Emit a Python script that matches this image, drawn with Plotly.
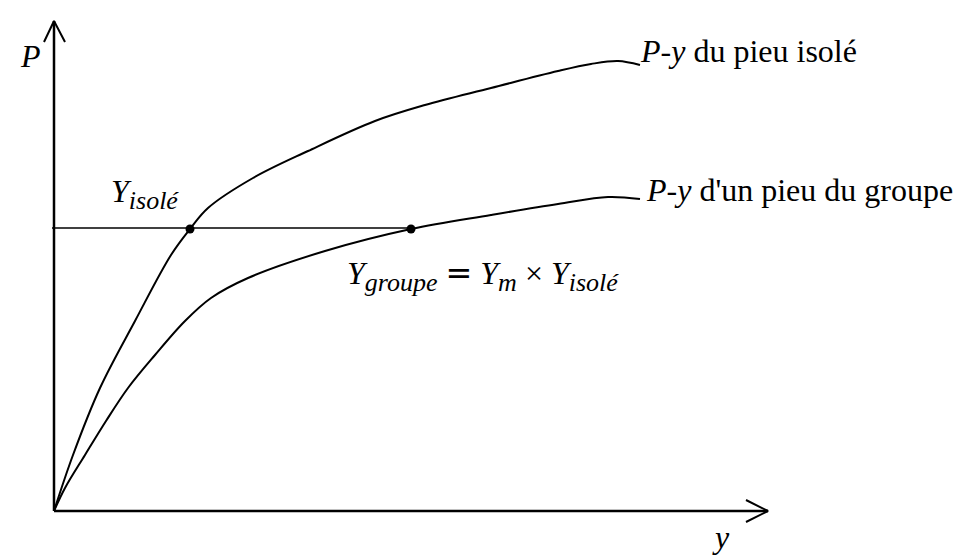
import plotly.graph_objects as go

# P-y curves (y displacement, P load), origin at the axes corner
y_isole = [0, 19, 46, 81, 117, 136, 154, 199, 254, 321, 371, 437, 504, 537, 564, 586]
p_isole = [0, 56, 123, 190, 256, 282, 303, 333, 360, 390, 406, 423, 440, 447, 450, 446]

y_groupe = [0, 11, 31, 52, 74, 101, 131, 157, 194, 271, 357, 437, 504, 554, 586]
p_groupe = [0, 23, 56, 90, 123, 156, 190, 213, 233, 260, 282, 296, 307, 314, 312]

# same load level on both curves
p_level = 282
y_isole_pt = 136
y_groupe_pt = 357

# axis extents
y_max = 714
p_max = 490

FONT = "Liberation Serif, Times New Roman, serif"
FS = 32

fig = go.Figure()

curve = dict(color="black", width=2, shape="spline", smoothing=1.0)
fig.add_trace(go.Scatter(x=y_isole, y=p_isole, mode="lines", line=curve))
fig.add_trace(go.Scatter(x=y_groupe, y=p_groupe, mode="lines", line=curve))

# horizontal line at the common load
fig.add_trace(go.Scatter(x=[-2, y_groupe_pt], y=[p_level + 1, p_level + 1], mode="lines",
                         line=dict(color="black", width=1.6)))
fig.add_trace(go.Scatter(x=[y_isole_pt, y_groupe_pt], y=[p_level, p_level], mode="markers",
                         marker=dict(color="black", size=9)))

# axes with open arrow heads
ax = dict(color="black", width=2.5)
fig.add_trace(go.Scatter(x=[0, 0], y=[0, p_max], mode="lines", line=ax))
fig.add_trace(go.Scatter(x=[-10, 0, 11], y=[p_max - 21, p_max, p_max - 21], mode="lines",
                         line=dict(color="black", width=2)))
fig.add_trace(go.Scatter(x=[0, y_max], y=[0, 0], mode="lines", line=ax))
fig.add_trace(go.Scatter(x=[y_max - 22, y_max, y_max - 22], y=[11, 0, -11], mode="lines",
                         line=dict(color="black", width=2)))


def label(x, yv, text, anchor="left", yanchor="middle"):
    fig.add_annotation(x=x, y=yv, text=text, showarrow=False, xanchor=anchor, yanchor=yanchor,
                       font=dict(family=FONT, size=FS, color="black"))


def sub(t):
    return "<sub><span style='font-size:26px'>%s</span></sub>" % t


eq = "<span style='font-family:DejaVu Sans'>=</span>"

label(-24, 455, "<i>P</i>", "center")
label(667, -26, "<i>y</i>", "center")
label(805, 460, "<i>P-y</i> du pieu isolé", "right")
label(901, 321, "<i>P-y</i> d'un pieu du groupe", "right")
label(55, 317, "<i>Y" + sub("isolé") + "</i>")
label(291, 236, "<i>Y" + sub("groupe") + "</i> " + eq + " <i>Y" + sub("m") + "</i> × <i>Y" + sub("isolé") + "</i>")

fig.update_layout(
    width=961, height=559,
    margin=dict(l=0, r=0, t=0, b=0),
    showlegend=False,
    plot_bgcolor="white", paper_bgcolor="white",
    xaxis=dict(range=[-46, 915], visible=False, fixedrange=True),
    yaxis=dict(range=[-56, 503], visible=False, fixedrange=True),
)

fig.write_html("out.html")
